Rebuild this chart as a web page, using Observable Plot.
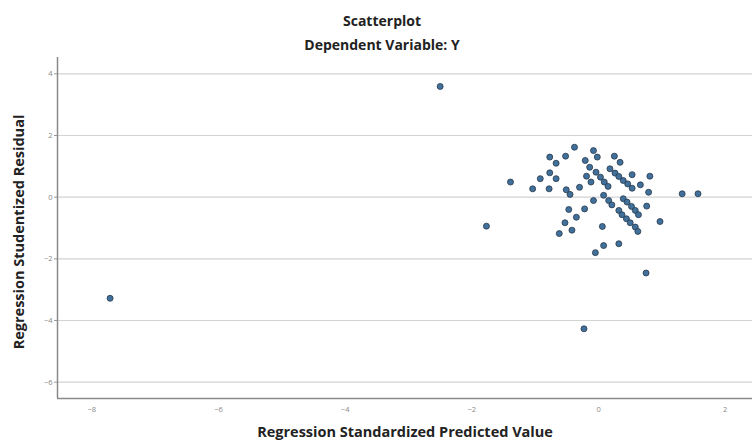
<!DOCTYPE html>
<html><head><meta charset="utf-8">
<script src="https://cdn.jsdelivr.net/npm/d3@7"></script>
<script src="https://cdn.jsdelivr.net/npm/@observablehq/plot@0.6"></script>
<style>body{margin:0;background:#fff;} svg{display:block}</style>
</head><body><div id="chart"></div>
<script>
// Regression Standardized Predicted Value
const predicted = [
  -0.38,-0.77,-0.52,-0.67,-0.77,-0.67,-0.92,-1.39,-1.04,-0.78,-0.51,-0.45,-0.30,-0.19,
  -0.22,-0.47,-0.35,-0.53,-0.42,-0.62,-1.77,
  -0.08,-0.02,0.25,0.34,-0.21,-0.14,0.18,0.26,0.32,0.39,0.46,0.53,0.53,0.81,0.66,0.79,
  -0.04,0.03,0.09,0.15,-0.12,0.08,0.16,0.21,-0.08,0.39,0.45,0.52,0.58,0.63,0.76,
  0.32,0.37,0.44,0.50,0.58,0.62,0.97,0.06,0.08,0.32,-0.05,0.75,1.32,1.57,
  -7.71,-2.50,-0.23
];
// Regression Studentized Residual
const residual = [
  1.62,1.30,1.33,1.10,0.79,0.60,0.60,0.49,0.27,0.27,0.24,0.09,0.32,0.68,
  -0.38,-0.40,-0.65,-0.83,-1.07,-1.18,-0.94,
  1.51,1.30,1.33,1.13,1.19,0.97,0.92,0.78,0.67,0.54,0.43,0.29,0.73,0.68,0.40,0.16,
  0.81,0.65,0.49,0.35,0.49,0.06,-0.11,-0.25,-0.11,-0.05,-0.16,-0.30,-0.43,-0.57,-0.29,
  -0.43,-0.57,-0.70,-0.83,-0.97,-1.11,-0.79,-0.95,-1.57,-1.51,-1.80,-2.46,0.11,0.11,
  -3.28,3.59,-4.27
];
const xTicks = [-8,-6,-4,-2,0,2];
const yTicks = [-6,-4,-2,0,2,4];
const titleText = "Scatterplot";
const subtitleText = "Dependent Variable: Y";
const xTitle = "Regression Standardized Predicted Value";
const yTitle = "Regression Studentized Residual";

const points = predicted.map((x, i) => ({x, y: residual[i]}));
const xDom = [-8.54, 2.43];
const yDom = [-6.53, 4.53];
const font = "'Open Sans', sans-serif";

const chart = Plot.plot({
  width: 752, height: 443,
  marginLeft: 57, marginRight: 0, marginTop: 57, marginBottom: 45,
  x: {domain: xDom, label: null},
  y: {domain: yDom, label: null},
  style: {fontFamily: font, background: "white"},
  marks: [
    Plot.gridY(yTicks, {stroke: "#d3d3d3", strokeOpacity: 1, strokeWidth: 1.2}),
    Plot.axisY(yTicks, {tickSize: 3, tickPadding: 2, fontSize: 7.5, color: "#888", stroke: "#999"}),
    Plot.axisX(xTicks, {tickSize: 0, tickPadding: 8, fontSize: 7.5, color: "#888"}),
    Plot.ruleX([xDom[0]], {stroke: "#8a8a8a", strokeWidth: 1.5}),
    Plot.ruleY([yDom[0]], {stroke: "#8a8a8a", strokeWidth: 1.5}),
    Plot.dot(points, {x: "x", y: "y", r: 3, fill: "#41709a", stroke: "#26394d", strokeWidth: 0.8}),
    Plot.text([titleText], {frameAnchor: "top", dx: -23, dy: -41, fontSize: 14, fontWeight: "bold", fill: "#222"}),
    Plot.text([subtitleText], {frameAnchor: "top", dx: -23, dy: -17, fontSize: 14, fontWeight: "bold", fill: "#222"}),
    Plot.text([xTitle], {frameAnchor: "bottom", dy: 38, fontSize: 14.5, fontWeight: "bold", fill: "#222"}),
    Plot.text([yTitle], {frameAnchor: "left", textAnchor: "middle", dx: -38, dy: 4, rotate: -90, fontSize: 14.5, fontWeight: "bold", fill: "#222"})
  ]
});
document.getElementById("chart").append(chart);
</script>
</body></html>
